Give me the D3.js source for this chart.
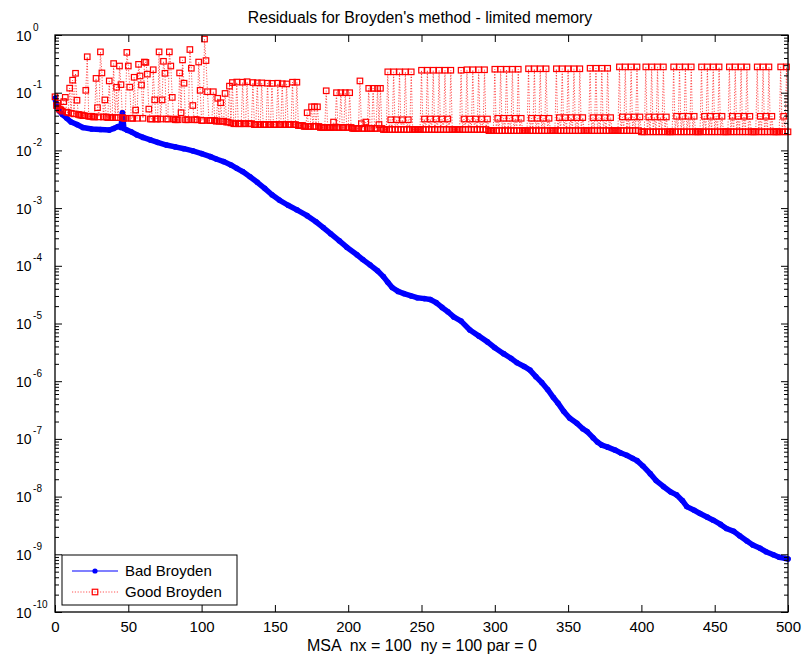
<!DOCTYPE html>
<html><head><meta charset="utf-8">
<script src="https://cdn.jsdelivr.net/npm/d3@7"></script>
<style>
html,body{margin:0;padding:0;background:#fff;}
svg text{font-family:"Liberation Sans",Arial,Helvetica,sans-serif;fill:#000;}
</style></head>
<body>
<svg id="chart" width="802" height="658"></svg>
<script>
// ---------- data ----------
const titleText = "Residuals for Broyden's method - limited memory";
const xLabelText = "MSA  nx = 100  ny = 100 par = 0";
const seriesNames = ["Bad Broyden", "Good Broyden"];
const xTicks = [0, 50, 100, 150, 200, 250, 300, 350, 400, 450, 500];
const yExponents = [0, -1, -2, -3, -4, -5, -6, -7, -8, -9, -10];

// Bad Broyden: iteration / residual pairs
const badIter = [0,1,3,5,8,11,15,19,25,31,37,40,43,45,46,47,49,52,56,60,65,70,76,82,88,94,100,106,110,115,120,124,128,133,138,143,148,153,159,165,172,178,183,188,194,199,206,210,215,220,224,227,230,234,238,243,247,252,256,260,264,268,272,277,283,289,295,300,306,311,315,320,324,328,332,336,340,343,347,351,356,360,363,367,370,373,377,382,386,390,394,397,401,406,410,415,420,424,428,431,436,440,445,449,454,458,463,467,472,476,481,485,490,494,498,500];
const badVals = [0.08,0.061,0.048,0.042,0.036,0.031,0.028,0.025,0.0235,0.023,0.0225,0.024,0.026,0.025,0.045,0.024,0.0225,0.021,0.0185,0.0168,0.0152,0.0138,0.0124,0.0115,0.0107,0.0098,0.0088,0.0078,0.0071,0.0064,0.0056,0.0049,0.0043,0.0035,0.0028,0.0022,0.0017,0.00138,0.00112,0.00093,0.00074,0.00058,0.00046,0.00036,0.00027,0.00021,1.55e-4,1.28e-4,1.03e-4,8.2e-5,6.5e-5,5.2e-5,4.2e-5,3.6e-5,3.3e-5,3.0e-5,2.8e-5,2.7e-5,2.6e-5,2.3e-5,1.9e-5,1.6e-5,1.3e-5,1.1e-5,7.7e-6,6.1e-6,4.8e-6,3.8e-6,3.0e-6,2.5e-6,2.1e-6,1.8e-6,1.56e-6,1.2e-6,9.5e-7,7.2e-7,5.2e-7,4.2e-7,3.0e-7,2.3e-7,1.86e-7,1.5e-7,1.34e-7,1.05e-7,8.8e-8,7.8e-8,7.2e-8,6.4e-8,5.7e-8,5.2e-8,4.6e-8,4.2e-8,3.4e-8,2.5e-8,1.9e-8,1.5e-8,1.2e-8,1.07e-8,8.5e-9,6.7e-9,5.8e-9,5.1e-9,4.4e-9,3.9e-9,3.3e-9,2.8e-9,2.5e-9,2.1e-9,1.7e-9,1.45e-9,1.27e-9,1.11e-9,9.8e-10,8.9e-10,8.5e-10,8.3e-10];

// Good Broyden: one residual per iteration 0..500
const goodVals = [
.085,.06,.066,.052,.05,.048,.07,.083,.046,.045,
.12,.044,.165,.043,.217,.074,.042,.041,.041,.04,
.04,.11,.42,.039,.039,.039,.038,.038,.177,.055,
.038,.51,.22,.038,.075,.038,.037,.16,.037,.037,
.32,.037,.124,.037,.29,.138,.037,.036,.036,.5,
.29,.125,.036,.036,.185,.05,.036,.31,.195,.136,
.036,.34,.335,.21,.052,.035,.035,.25,.075,.035,
.035,.51,.035,.075,.35,.217,.035,.035,.51,.29,
.083,.035,.034,.034,.034,.22,.045,.37,.146,.034,
.034,.034,.56,.265,.06,.034,.034,.034,.34,.11,
.033,.033,.85,.36,.104,.033,.033,.033,.104,.033,
.032,.08,.032,.067,.032,.032,.097,.031,.031,.13,
.03,.15,.029,.029,.153,.029,.029,.029,.152,.029,
.029,.155,.029,.029,.029,.15,.028,.028,.148,.028,
.028,.148,.028,.028,.028,.146,.028,.028,.145,.028,
.028,.028,.146,.028,.028,.143,.028,.028,.142,.028,
.028,.028,.152,.028,.028,.152,.027,.027,.027,.027,
.026,.026,.045,.026,.026,.057,.026,.057,.026,.057,
.026,.025,.025,.025,.025,.108,.025,.025,.025,.025,
.031,.025,.1,.025,.025,.1,.025,.025,.1,.025,
.025,.1,.025,.024,.024,.024,.024,.024,.16,.029,
.024,.024,.031,.024,.119,.024,.024,.119,.024,.024,
.119,.028,.119,.024,.023,.023,.023,.23,.023,.034,
.023,.23,.023,.034,.023,.23,.023,.034,.023,.23,
.023,.034,.023,.23,.023,.023,.023,.023,.023,.023,
.245,.023,.035,.023,.245,.023,.035,.023,.245,.023,
.035,.023,.245,.023,.035,.023,.245,.023,.035,.023,
.245,.023,.023,.023,.023,.023,.023,.245,.023,.035,
.023,.25,.023,.035,.023,.25,.023,.035,.023,.25,
.023,.035,.023,.25,.023,.035,.022,.022,.022,.022,
.255,.022,.036,.022,.255,.022,.036,.022,.255,.022,
.036,.022,.255,.022,.036,.022,.255,.022,.036,.022,
.022,.022,.022,.26,.022,.036,.022,.26,.022,.036,
.022,.26,.022,.036,.022,.26,.022,.036,.022,.022,
.022,.022,.26,.022,.037,.022,.26,.022,.037,.022,
.26,.022,.037,.022,.26,.022,.037,.022,.26,.022,
.037,.022,.022,.022,.022,.265,.022,.037,.022,.265,
.022,.037,.022,.265,.022,.037,.022,.265,.022,.037,
.022,.022,.022,.022,.022,.28,.022,.038,.022,.28,
.022,.038,.022,.28,.022,.038,.022,.28,.022,.038,
.021,.021,.021,.28,.021,.038,.021,.28,.021,.038,
.021,.28,.021,.038,.021,.28,.021,.038,.021,.021,
.021,.021,.28,.021,.039,.021,.28,.021,.039,.021,
.28,.021,.039,.021,.28,.021,.039,.021,.021,.021,
.021,.28,.021,.039,.021,.28,.021,.039,.021,.28,
.021,.039,.021,.28,.021,.039,.021,.021,.021,.021,
.28,.021,.039,.021,.28,.021,.039,.021,.28,.021,
.039,.021,.28,.021,.039,.021,.021,.021,.021,.28,
.021,.039,.021,.28,.021,.039,.021,.28,.021,.039,
.021,.021,.021,.021,.021,.28,.021,.039,.021,.28,
.021];

// ---------- layout ----------
const L = 55, R = 788, T = 35, B = 612;
const svg = d3.select("#chart");
const x = d3.scaleLinear().domain([0, 500]).range([L, R]);
const y = d3.scaleLog().domain([1e-10, 1]).range([B, T]);

const majors = yExponents.map(e => Math.pow(10, e));
const minors = [];
yExponents.slice(1).forEach(e => { for (let k = 2; k <= 9; k++) minors.push(k * Math.pow(10, e)); });

const badData = badIter.map((it, i) => ({ it, v: badVals[i] }));
const goodData = goodVals.map((v, i) => ({ it: i, v }));

const line = d3.line().x(d => x(d.it)).y(d => y(d.v));

// Bad Broyden (blue solid + dots)
svg.append("path").datum(badData).attr("d", line)
  .attr("fill", "none").attr("stroke", "#0000ff").attr("stroke-width", 5.5)
  .attr("stroke-linejoin", "round").attr("stroke-linecap", "round");
svg.append("g").selectAll("circle").data(badData).join("circle")
  .attr("cx", d => x(d.it)).attr("cy", d => y(d.v)).attr("r", 2.8).attr("fill", "#0000ff");

// Good Broyden (red dotted + squares)
svg.append("path").datum(goodData).attr("d", line)
  .attr("fill", "none").attr("stroke", "#ff0000").attr("stroke-width", 0.9)
  .attr("stroke-dasharray", "1.2,1.6").attr("stroke-opacity", 0.75);
const sq = 5.5;
svg.append("g").selectAll("rect").data(goodData).join("rect")
  .attr("x", d => x(d.it) - sq / 2).attr("y", d => y(d.v) - sq / 2)
  .attr("width", sq).attr("height", sq)
  .attr("fill", "none").attr("stroke", "#ff0000").attr("stroke-width", 1.2);

// ---------- axes ----------
function styleAxis(g) {
  g.select(".domain").remove();
  g.selectAll(".tick line").attr("stroke", "#000").attr("stroke-width", 1);
}
svg.append("g").attr("transform", `translate(0,${B})`)
  .call(d3.axisBottom(x).tickValues(xTicks).tickSize(-7).tickPadding(9).tickFormat(d3.format("d")))
  .call(styleAxis)
  .call(g => g.selectAll("text").attr("font-size", 15).attr("font-family", "Liberation Sans, Arial, sans-serif"));
svg.append("g").attr("transform", `translate(0,${T})`)
  .call(d3.axisTop(x).tickValues(xTicks).tickSize(-7).tickFormat(""))
  .call(styleAxis);
svg.append("g").attr("transform", `translate(${L},0)`)
  .call(d3.axisLeft(y).tickValues(majors).tickSize(-7).tickFormat(""))
  .call(styleAxis);
svg.append("g").attr("transform", `translate(${L},0)`)
  .call(d3.axisLeft(y).tickValues(minors).tickSize(-4).tickFormat(""))
  .call(styleAxis);
svg.append("g").attr("transform", `translate(${R},0)`)
  .call(d3.axisRight(y).tickValues(majors).tickSize(-7).tickFormat(""))
  .call(styleAxis);
svg.append("g").attr("transform", `translate(${R},0)`)
  .call(d3.axisRight(y).tickValues(minors).tickSize(-4).tickFormat(""))
  .call(styleAxis);

svg.append("rect").attr("x", L).attr("y", T).attr("width", R - L).attr("height", B - T)
  .attr("fill", "none").attr("stroke", "#000").attr("stroke-width", 1.3);

// y tick labels 10^e
const yl = svg.append("g").selectAll("text").data(yExponents).join("text")
  .attr("x", 16).attr("y", e => y(Math.pow(10, e)) + 5.5).attr("font-size", 14);
yl.append("tspan").text("10");
yl.append("tspan").attr("font-size", 10).attr("dx", 1.5).attr("dy", -10).text(e => String(e));

// title & x label
svg.append("text").attr("x", 420).attr("y", 23).attr("text-anchor", "middle")
  .attr("font-size", 15.8).text(titleText);
svg.append("text").attr("x", 422).attr("y", 651).attr("text-anchor", "middle")
  .attr("font-size", 16).style("white-space", "pre").text(xLabelText);

// legend
const lg = svg.append("g");
lg.append("rect").attr("x", 62).attr("y", 555).attr("width", 175).attr("height", 50)
  .attr("fill", "#fff").attr("stroke", "#000").attr("stroke-width", 1);
lg.append("line").attr("x1", 72).attr("x2", 118).attr("y1", 571).attr("y2", 571)
  .attr("stroke", "#0000ff").attr("stroke-width", 1.2);
lg.append("circle").attr("cx", 95).attr("cy", 571).attr("r", 2.6).attr("fill", "#0000ff");
lg.append("line").attr("x1", 72).attr("x2", 118).attr("y1", 592).attr("y2", 592)
  .attr("stroke", "#ff0000").attr("stroke-width", 0.9).attr("stroke-dasharray", "1.2,1.6").attr("stroke-opacity", 0.75);
lg.append("rect").attr("x", 95 - sq / 2).attr("y", 592 - sq / 2).attr("width", sq).attr("height", sq)
  .attr("fill", "none").attr("stroke", "#ff0000").attr("stroke-width", 1.2);
lg.selectAll("text.lt").data(seriesNames).join("text").attr("class", "lt")
  .attr("x", 125).attr("y", (d, i) => 576 + i * 21).attr("font-size", 15).text(d => d);
</script>
</body></html>
